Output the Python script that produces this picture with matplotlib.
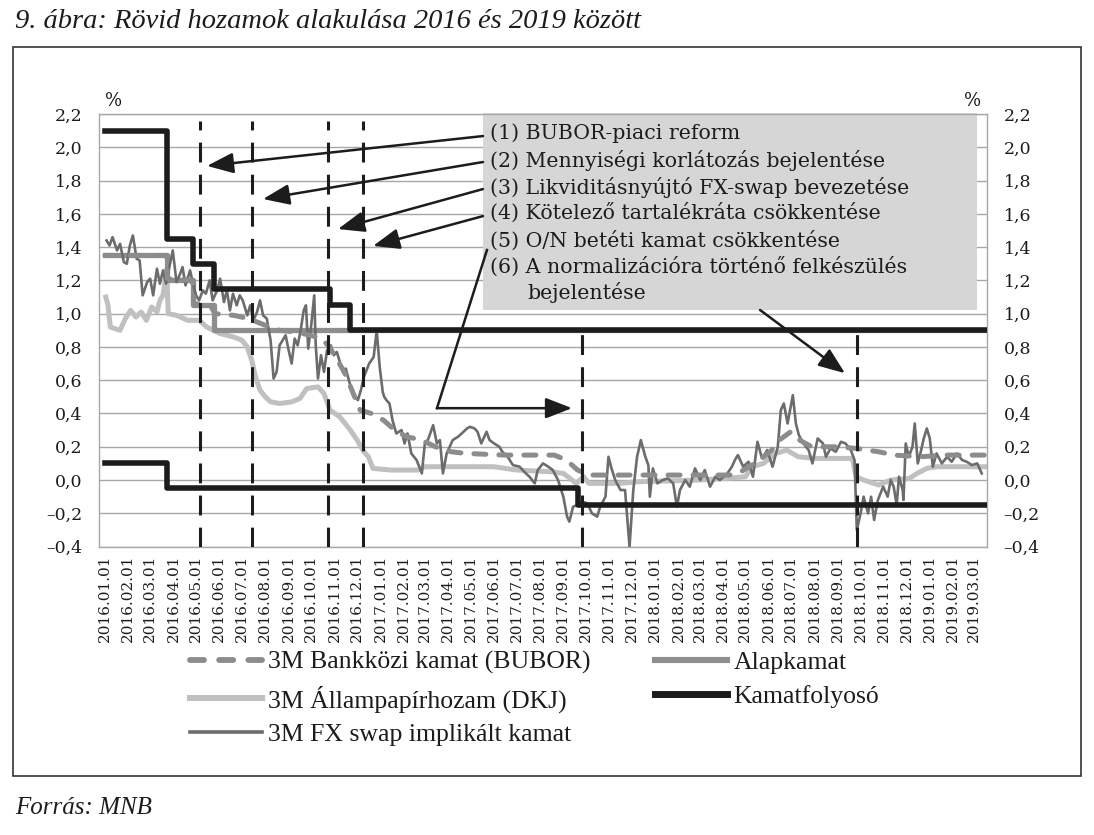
import matplotlib
matplotlib.use("Agg")
import matplotlib.pyplot as plt
import matplotlib.dates as mdates
from matplotlib.patches import Rectangle
from matplotlib.ticker import FuncFormatter, FixedLocator
import pandas as pd

# ---------------- data ----------------
corridor_up_dates = ["2016-01-01", "2016-03-23", "2016-04-27", "2016-05-25",
                     "2016-10-26", "2016-11-22", "2019-03-15"]
corridor_up_vals = [2.10, 1.45, 1.30, 1.15, 1.05, 0.90, 0.90]

corridor_lo_dates = ["2016-01-01", "2016-03-23", "2017-09-20", "2019-03-15"]
corridor_lo_vals = [0.10, -0.05, -0.15, -0.15]

base_dates = ["2016-01-01", "2016-03-23", "2016-04-27", "2016-05-25", "2019-03-15"]
base_vals = [1.35, 1.20, 1.05, 0.90, 0.90]

bubor_dates = ["2016-01-01", "2016-03-22", "2016-03-24", "2016-04-26", "2016-04-28",
               "2016-05-20", "2016-05-26", "2016-06-20", "2016-07-10", "2016-08-01",
               "2016-08-20", "2016-09-10", "2016-09-30", "2016-10-15", "2016-10-25",
               "2016-11-05", "2016-11-15", "2016-11-25", "2016-12-05", "2016-12-20",
               "2017-01-05", "2017-01-20", "2017-02-05", "2017-02-25", "2017-03-15",
               "2017-04-05", "2017-04-25", "2017-06-15", "2017-08-20", "2017-09-05",
               "2017-09-20", "2017-10-05", "2018-04-10", "2018-04-25", "2018-05-20",
               "2018-06-05", "2018-06-15", "2018-06-30", "2018-07-12", "2018-07-28",
               "2018-09-01", "2018-09-25", "2018-10-10", "2018-10-25", "2018-11-15",
               "2018-12-20", "2019-01-20", "2019-03-15"]
bubor_vals = [1.35, 1.35, 1.21, 1.20, 1.06,
              1.05, 1.00, 0.99, 0.97, 0.93,
              0.90, 0.89, 0.87, 0.85, 0.80,
              0.72, 0.64, 0.53, 0.42, 0.40,
              0.36, 0.30, 0.26, 0.24, 0.20,
              0.17, 0.16, 0.15, 0.15, 0.12,
              0.06, 0.03, 0.03, 0.05, 0.12,
              0.18, 0.24, 0.29, 0.24, 0.20,
              0.20, 0.19, 0.18, 0.17, 0.15,
              0.14, 0.15, 0.15]

dkj_dates = ["2016-01-02", "2016-01-05", "2016-01-08", "2016-01-14", "2016-01-21",
             "2016-01-28", "2016-02-04", "2016-02-11", "2016-02-18", "2016-02-25",
             "2016-03-03", "2016-03-10", "2016-03-14", "2016-03-18", "2016-03-23",
             "2016-03-25", "2016-04-05", "2016-04-20", "2016-05-05", "2016-05-15",
             "2016-06-02", "2016-06-20", "2016-07-01", "2016-07-08", "2016-07-14",
             "2016-07-19", "2016-07-25", "2016-08-01", "2016-08-08", "2016-08-20",
             "2016-09-05", "2016-09-16", "2016-09-25", "2016-10-10", "2016-10-18",
             "2016-10-26", "2016-11-08", "2016-11-22", "2016-12-01", "2016-12-10",
             "2016-12-16", "2016-12-22", "2017-01-15", "2017-02-20", "2017-03-01",
             "2017-06-01", "2017-07-01", "2017-08-15", "2017-09-01", "2017-09-10",
             "2017-09-18", "2017-09-28", "2017-10-05", "2017-11-15", "2017-12-10",
             "2018-03-01", "2018-04-05", "2018-05-01", "2018-05-10", "2018-05-25",
             "2018-06-10", "2018-06-25", "2018-07-10", "2018-08-01", "2018-09-20",
             "2018-09-25", "2018-10-05", "2018-10-25", "2018-11-10", "2018-12-05",
             "2018-12-15", "2018-12-28", "2019-01-10", "2019-03-15"]
dkj_vals = [1.10, 1.05, 0.92, 0.91, 0.90,
            0.97, 1.02, 0.98, 1.01, 0.96,
            1.04, 1.01, 1.08, 1.11, 1.26,
            1.00, 0.99, 0.96, 0.96, 0.92,
            0.88, 0.86, 0.84, 0.80, 0.72,
            0.62, 0.54, 0.50, 0.47, 0.46,
            0.47, 0.49, 0.55, 0.56, 0.52,
            0.42, 0.38, 0.30, 0.24, 0.17,
            0.14, 0.07, 0.06, 0.06, 0.08,
            0.08, 0.06, 0.05, 0.04, 0.01,
            -0.02, 0.02, -0.02, -0.02, -0.01,
            0.00, 0.01, 0.02, 0.08, 0.10,
            0.16, 0.18, 0.14, 0.13, 0.13,
            0.02, 0.00, -0.03, 0.00, 0.01,
            0.04, 0.07, 0.08, 0.08]

swap_dates = ["2016-01-03", "2016-01-07", "2016-01-11", "2016-01-17", "2016-01-21",
              "2016-01-26", "2016-01-30", "2016-02-03", "2016-02-07", "2016-02-12",
              "2016-02-16", "2016-02-20", "2016-02-26", "2016-03-01", "2016-03-05",
              "2016-03-10", "2016-03-14", "2016-03-18", "2016-03-22", "2016-03-27",
              "2016-03-31", "2016-04-05", "2016-04-09", "2016-04-13", "2016-04-17",
              "2016-04-23", "2016-04-27", "2016-05-01", "2016-05-05", "2016-05-10",
              "2016-05-14", "2016-05-19", "2016-05-23", "2016-05-29", "2016-06-02",
              "2016-06-07", "2016-06-11", "2016-06-15", "2016-06-19", "2016-06-24",
              "2016-06-28", "2016-07-02", "2016-07-08", "2016-07-12", "2016-07-16",
              "2016-07-21", "2016-07-25", "2016-07-29", "2016-08-03", "2016-08-08",
              "2016-08-12", "2016-08-16", "2016-08-20", "2016-08-24", "2016-08-28",
              "2016-09-01", "2016-09-05", "2016-09-09", "2016-09-13", "2016-09-17",
              "2016-09-21", "2016-09-24", "2016-09-27", "2016-10-01", "2016-10-05",
              "2016-10-07", "2016-10-10", "2016-10-14", "2016-10-18", "2016-10-22",
              "2016-10-27", "2016-10-31", "2016-11-04", "2016-11-08", "2016-11-12",
              "2016-11-16", "2016-11-20", "2016-11-24", "2016-11-28", "2016-12-02",
              "2016-12-06", "2016-12-10", "2016-12-17", "2016-12-23", "2016-12-27",
              "2016-12-31", "2017-01-04", "2017-01-06", "2017-01-09", "2017-01-13",
              "2017-01-17", "2017-01-22", "2017-01-29", "2017-02-02", "2017-02-06",
              "2017-02-11", "2017-02-18", "2017-02-25", "2017-03-01", "2017-03-05",
              "2017-03-12", "2017-03-17", "2017-03-21", "2017-03-25", "2017-03-30",
              "2017-04-03", "2017-04-07", "2017-04-14", "2017-04-19", "2017-04-26",
              "2017-04-30", "2017-05-06", "2017-05-10", "2017-05-15", "2017-05-22",
              "2017-05-26", "2017-06-01", "2017-06-08", "2017-06-12", "2017-06-19",
              "2017-06-26", "2017-07-05", "2017-07-11", "2017-07-18", "2017-07-25",
              "2017-07-29", "2017-08-05", "2017-08-12", "2017-08-18", "2017-08-25",
              "2017-09-01", "2017-09-06", "2017-09-09", "2017-09-14", "2017-09-20",
              "2017-09-26", "2017-10-03", "2017-10-09", "2017-10-16", "2017-10-20",
              "2017-10-27", "2017-10-31", "2017-11-04", "2017-11-09", "2017-11-16",
              "2017-11-22", "2017-11-28", "2017-12-03", "2017-12-08", "2017-12-13",
              "2017-12-19", "2017-12-23", "2017-12-25", "2017-12-29", "2018-01-04",
              "2018-01-11", "2018-01-18", "2018-01-25", "2018-01-30", "2018-02-03",
              "2018-02-10", "2018-02-16", "2018-02-23", "2018-03-02", "2018-03-08",
              "2018-03-15", "2018-03-22", "2018-03-28", "2018-04-07", "2018-04-13",
              "2018-04-17", "2018-04-21", "2018-04-28", "2018-05-05", "2018-05-11",
              "2018-05-17", "2018-05-23", "2018-05-30", "2018-06-06", "2018-06-13",
              "2018-06-17", "2018-06-21", "2018-06-26", "2018-07-03", "2018-07-07",
              "2018-07-11", "2018-07-17", "2018-07-24", "2018-07-29", "2018-08-05",
              "2018-08-12", "2018-08-16", "2018-08-22", "2018-08-29", "2018-09-05",
              "2018-09-11", "2018-09-18", "2018-09-23", "2018-09-26", "2018-10-01",
              "2018-10-05", "2018-10-11", "2018-10-15", "2018-10-19", "2018-10-24",
              "2018-10-31", "2018-11-06", "2018-11-10", "2018-11-14", "2018-11-18",
              "2018-11-21", "2018-11-26", "2018-11-27", "2018-11-30", "2018-12-04",
              "2018-12-09", "2018-12-12", "2018-12-16", "2018-12-20", "2018-12-24",
              "2018-12-28", "2019-01-01", "2019-01-05", "2019-01-10", "2019-01-17",
              "2019-01-24", "2019-01-30", "2019-02-06", "2019-02-13", "2019-02-19",
              "2019-02-26", "2019-03-05", "2019-03-11"]
swap_vals = [1.44, 1.41, 1.46, 1.38, 1.42,
             1.31, 1.30, 1.41, 1.47, 1.33,
             1.32, 1.11, 1.19, 1.21, 1.11,
             1.27, 1.18, 1.26, 1.18, 1.29,
             1.38, 1.19, 1.23, 1.28, 1.17,
             1.26, 1.18, 1.11, 1.08, 1.14,
             1.12, 1.20, 1.08, 1.14, 1.21,
             1.07, 1.14, 1.02, 1.12, 1.05,
             1.11, 1.08, 0.99, 1.05, 0.96,
             1.01, 1.08, 0.99, 0.97, 0.84,
             0.61, 0.65, 0.81, 0.84, 0.87,
             0.78, 0.70, 0.85, 0.81, 0.90,
             1.02, 1.05, 0.79, 0.93, 1.11,
             0.81, 0.61, 0.75, 0.65, 0.78,
             0.81, 0.75, 0.77, 0.71, 0.65,
             0.67, 0.60, 0.54, 0.51, 0.48,
             0.54, 0.62, 0.70, 0.74, 0.90,
             0.68, 0.53, 0.50, 0.48, 0.46,
             0.36, 0.28, 0.30, 0.22, 0.28,
             0.16, 0.12, 0.04, 0.22, 0.24,
             0.33, 0.22, 0.24, 0.04, 0.16,
             0.20, 0.24, 0.26, 0.28, 0.31,
             0.32, 0.31, 0.29, 0.22, 0.29,
             0.24, 0.22, 0.20, 0.17, 0.14,
             0.09, 0.08, 0.05, 0.02, -0.02,
             0.06, 0.10, 0.08, 0.06, 0.00,
             -0.10, -0.22, -0.25, -0.16, -0.15,
             -0.13, -0.14, -0.20, -0.22, -0.16,
             -0.10, 0.14, 0.07, 0.00, -0.06,
             -0.06, -0.40, -0.06, 0.14, 0.24,
             0.14, 0.09, -0.10, 0.07, -0.02,
             0.00, 0.01, -0.02, -0.16, -0.06,
             0.00, -0.04, 0.07, 0.00, 0.06,
             -0.04, 0.02, 0.00, 0.04, 0.08,
             0.12, 0.15, 0.08, 0.11, 0.02,
             0.23, 0.13, 0.18, 0.08, 0.20,
             0.42, 0.46, 0.34, 0.51, 0.34,
             0.27, 0.22, 0.18, 0.10, 0.25,
             0.22, 0.14, 0.19, 0.17, 0.23,
             0.22, 0.18, 0.12, -0.30, -0.20,
             -0.10, -0.20, -0.10, -0.24, -0.12,
             -0.04, -0.10, 0.00, -0.04, -0.15,
             0.02, -0.06, -0.12, 0.22, 0.14,
             0.20, 0.34, 0.10, 0.17, 0.25,
             0.31, 0.25, 0.08, 0.16, 0.10,
             0.14, 0.11, 0.16, 0.12, 0.11,
             0.09, 0.10, 0.04]

event_dates = ["2016-05-06", "2016-07-14", "2016-10-23", "2016-12-09",
               "2017-09-26", "2018-09-26"]
event_tops = [2.16, 2.16, 2.16, 2.16, 0.90, 0.90]
event_labels = ["(1) BUBOR-piaci reform",
                "(2) Mennyiségi korlátozás bejelentése",
                "(3) Likviditásnyújtó FX-swap bevezetése",
                "(4) Kötelező tartalékráta csökkentése",
                "(5) O/N betéti kamat csökkentése",
                "(6) A normalizációra történő felkészülés",
                "bejelentése"]

series_labels = ["3M Bankközi kamat (BUBOR)", "3M Állampapírhozam (DKJ)",
                 "3M FX swap implikált kamat", "Alapkamat", "Kamatfolyosó"]
y_ticks = [-0.4, -0.2, 0.0, 0.2, 0.4, 0.6, 0.8, 1.0, 1.2, 1.4, 1.6, 1.8, 2.0, 2.2]
title = "9. ábra: Rövid hozamok alakulása 2016 és 2019 között"
source = "Forrás: MNB"

# ---------------- figure ----------------
W, H = 1094, 835
fig = plt.figure(figsize=(W / 100, H / 100), dpi=100)
ax = fig.add_axes([99 / W, 1 - 546.6 / H, 888 / W, 432.6 / H])

serif = "DejaVu Serif"
times = "Liberation Serif"
dk = "#1c1c1c"

td = lambda L: pd.to_datetime(L)

l_dkj, = ax.plot(td(dkj_dates), dkj_vals, color="#c0c0c0", lw=3.6,
                 solid_joinstyle="round", zorder=2.1, label=series_labels[1])
l_base, = ax.plot(td(base_dates), base_vals, color="#8e8e8e", lw=3.8,
                  drawstyle="steps-post", zorder=2.2, label=series_labels[3])
l_swap, = ax.plot(td(swap_dates), swap_vals, color="#6c6c6c", lw=1.9,
                  zorder=3, label=series_labels[2])
l_bub, = ax.plot(td(bubor_dates), bubor_vals, color="#8c8c8c", lw=3.6,
                 linestyle=(0, (2.4, 2.6)), dash_capstyle="round",
                 zorder=3.5, label=series_labels[0])
l_kam, = ax.plot(td(corridor_up_dates), corridor_up_vals, color=dk, lw=4,
                 drawstyle="steps-post", zorder=4, label=series_labels[4])
ax.plot(td(corridor_lo_dates), corridor_lo_vals, color=dk, lw=4,
        drawstyle="steps-post", zorder=4)

ax.vlines(td(event_dates), [-0.4] * len(event_dates), event_tops, colors=dk,
          lw=2.2, linestyles=[(0, (6.5, 4))], zorder=5)

ax.set_xlim(pd.Timestamp("2015-12-24"), pd.Timestamp("2019-03-18"))
ax.set_ylim(-0.4, 2.2)
ax.yaxis.set_major_locator(FixedLocator(y_ticks))
ax.yaxis.set_major_formatter(FuncFormatter(
    lambda v, p: ("%.1f" % v).replace(".", ",").replace("-", "\u2013")))
ax.xaxis.set_major_locator(mdates.MonthLocator())
ax.xaxis.set_major_formatter(mdates.DateFormatter("%Y.%m.%d"))
ax.grid(axis="y", color="#a8a8a8", lw=1.0, zorder=0)
ax.set_axisbelow(True)
for s in ax.spines.values():
    s.set_color("#a8a8a8")
    s.set_linewidth(1.0)
ax.tick_params(axis="y", length=0, pad=12, labelsize=12.5, labelright=True,
               labelcolor=dk)
ax.tick_params(axis="x", length=0, pad=6, labelsize=11, labelrotation=90,
               labelcolor=dk)
for tk in ax.yaxis.get_major_ticks():
    tk.label1.set_fontfamily(serif)
    tk.label2.set_fontfamily(serif)
for tk in ax.xaxis.get_major_ticks():
    tk.label1.set_fontfamily(serif)

ax.text(0.016, 1.01, "%", transform=ax.transAxes, fontsize=13, family=serif,
        color=dk, ha="center", va="bottom")
ax.text(0.984, 1.01, "%", transform=ax.transAxes, fontsize=13, family=serif,
        color=dk, ha="center", va="bottom")

# annotation box
ax.add_patch(Rectangle((0.4324, 0.547), 0.5563, 0.455, transform=ax.transAxes,
                       facecolor="#d6d6d6", edgecolor="none", zorder=2.5,
                       clip_on=False))
text_y = [0.956, 0.893, 0.831, 0.771, 0.708, 0.648, 0.588]
for i, (lab, yy) in enumerate(zip(event_labels, text_y)):
    xx = 0.4403 if i < 6 else 0.482
    ax.text(xx, yy, lab, transform=ax.transAxes, fontsize=14.8, family=serif,
            color=dk, va="center", ha="left", zorder=6)

arrow_kw = dict(arrowstyle="-|>,head_length=0.9,head_width=0.35", color=dk,
                lw=1.8, shrinkA=0, shrinkB=0, mutation_scale=18)
arrows = [((0.4324, 0.949), (0.1216, 0.880)),
          ((0.4324, 0.889), (0.1847, 0.8035)),
          ((0.4324, 0.8265), (0.2691, 0.734)),
          ((0.4324, 0.764), (0.3086, 0.695)),
          ((0.3806, 0.320), (0.5327, 0.320)),
          ((0.7444, 0.547), (0.8401, 0.4008))]
for (s, e) in arrows:
    ax.annotate("", xy=e, xytext=s, xycoords="axes fraction",
                textcoords="axes fraction", arrowprops=arrow_kw, zorder=6)
ax.plot([0.4369, 0.3806], [0.6856, 0.320], transform=ax.transAxes, color=dk,
        lw=1.8, zorder=6, clip_on=False)

# legend
handles = [l_bub, l_dkj, l_swap, l_base, l_kam]
leg = fig.legend(handles, series_labels, loc="upper left",
                 bbox_to_anchor=(190 / W, 1 - 651 / H), ncol=2, frameon=False,
                 prop={"family": times, "size": 18.5}, handlelength=2.8,
                 handletextpad=0.25, labelspacing=0.42, columnspacing=2.5,
                 borderpad=0, borderaxespad=0)
for t in leg.get_texts():
    t.set_color(dk)
for ln, w in zip(leg.get_lines(), [4.2, 4.4, 2.6, 4.4, 5.0]):
    ln.set_linewidth(w)

# frame, title, source
fig.patches.append(Rectangle((13 / W, 1 - 776 / H), (1081 - 13) / W, (776 - 47) / H,
                             transform=fig.transFigure, fill=False,
                             edgecolor="#333333", lw=1.2))
fig.text(15 / W, 1 - 22 / H, title, family=times, style="italic", fontsize=20.5,
         color=dk, va="center", ha="left")
fig.text(15 / W, 1 - 808 / H, source, family=times, style="italic", fontsize=18,
         color=dk, va="center", ha="left")

fig.savefig("out.png", dpi=100)
